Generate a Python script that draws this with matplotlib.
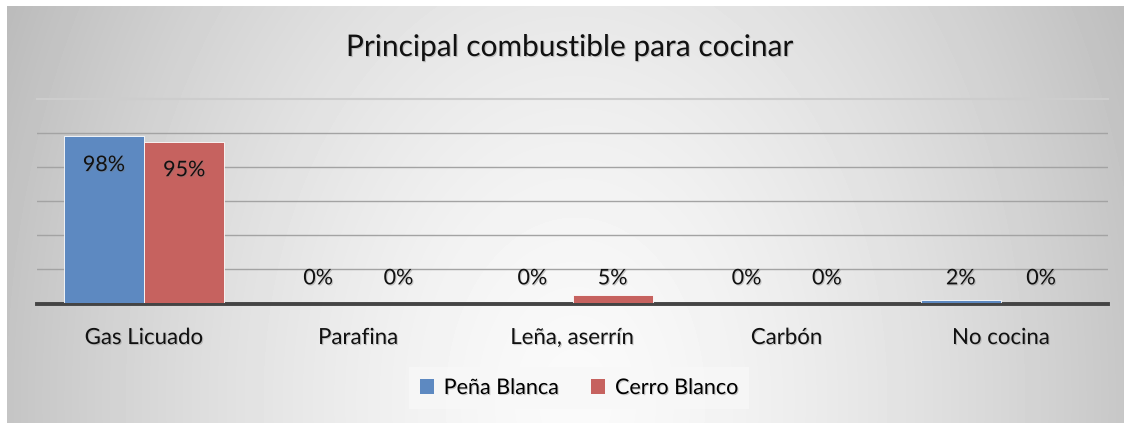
import numpy as np
import matplotlib.pyplot as plt
import matplotlib.patheffects as pe
from matplotlib.patches import Patch

categories = ['Gas Licuado', 'Parafina', 'Leña, aserrín', 'Carbón', 'No cocina']
pena_blanca = [0.98, 0.0, 0.0, 0.0, 0.02]
cerro_blanco = [0.95, 0.0, 0.05, 0.0, 0.0]
series_names = ['Peña Blanca', 'Cerro Blanco']
title = 'Principal combustible para cocinar'

BLUE = '#5d89c1'
RED = '#c6625f'

plt.rcParams['font.family'] = ['Lato', 'DejaVu Sans']
shadow = [pe.withSimplePatchShadow(offset=(0.8, -0.8), shadow_rgbFace='#777777', alpha=0.35)]

W, H = 1129, 424
fig = plt.figure(figsize=(W / 100, H / 100), dpi=100)
fig.patch.set_facecolor('white')

# radial grey background of the chart panel
bg = fig.add_axes([7 / W, 1 / H, 1117 / W, 417 / H], zorder=0)
yy, xx = np.mgrid[0:417, 0:1117]
dx = (xx - 568) / 568.0
dy = (yy - 394) / 800.0
r = np.sqrt(dx ** 2 + dy ** 2)
shade = np.clip(0.98 - 0.21 * r ** 1.5, 0, 1)
bg.imshow(shade, cmap='gray', vmin=0, vmax=1, aspect='auto', interpolation='bilinear')
bg.axis('off')

ax = fig.add_axes([37 / W, 1 - 303 / H, (1108 - 37) / W, (303 - 99) / H], zorder=1)
ax.patch.set_alpha(0)

x = np.arange(len(categories))
w = 0.375
bars_a = ax.bar(x - w / 2, pena_blanca, w, color=BLUE, edgecolor='white', linewidth=0.6, zorder=3)
bars_b = ax.bar(x + w / 2, cerro_blanco, w, color=RED, edgecolor='white', linewidth=0.6, zorder=3)

ax.set_xlim(-0.5, len(categories) - 0.5)
ax.set_ylim(0, 1.2)
for g in [0.2, 0.4, 0.6, 0.8, 1.0]:
    ax.axhline(g, color='#a3a3a3', linewidth=1.0, zorder=1)
ax.axhline(1.2, color='#cdcdcd', linewidth=1.5, zorder=1, clip_on=False)
ax.axhline(-0.006, color='#444444', linewidth=2.8, zorder=2, clip_on=False)

for spine in ax.spines.values():
    spine.set_visible(False)
ax.set_yticks([])
ax.set_xticks(x)
ax.set_xticklabels(categories, fontsize=16, color='#111111', path_effects=shadow)
ax.tick_params(axis='x', length=0, pad=18)

for bars, vals in [(bars_a, pena_blanca), (bars_b, cerro_blanco)]:
    for b, v in zip(bars, vals):
        cx = b.get_x() + b.get_width() / 2
        if v > 0.5:
            ax.text(cx, v - 0.11, f'{v:.0%}', ha='center', va='top', fontsize=15.5,
                    color='#111111', zorder=5, path_effects=shadow)
        else:
            ax.text(cx, 0.145, f'{v:.0%}', ha='center', va='center', fontsize=15.5,
                    color='#111111', zorder=5, path_effects=shadow)

fig.text(0.505, 1 - 47 / H, title, ha='center', va='center', fontsize=21.5,
         color='#111111', path_effects=shadow)

handles = [Patch(facecolor=BLUE, edgecolor='none'), Patch(facecolor=RED, edgecolor='none')]
leg = fig.legend(handles, series_names, loc='center', bbox_to_anchor=(0.513, 1 - 388 / H),
                 ncol=2, frameon=True, fontsize=15.5, handlelength=0.65, handleheight=0.65,
                 handletextpad=0.45, columnspacing=1.5, borderpad=0.5, fancybox=False)
leg.get_frame().set_facecolor('#f8f8f8')
leg.get_frame().set_edgecolor('none')
for t in leg.get_texts():
    t.set_path_effects(shadow)

fig.savefig('out.png', dpi=100)
